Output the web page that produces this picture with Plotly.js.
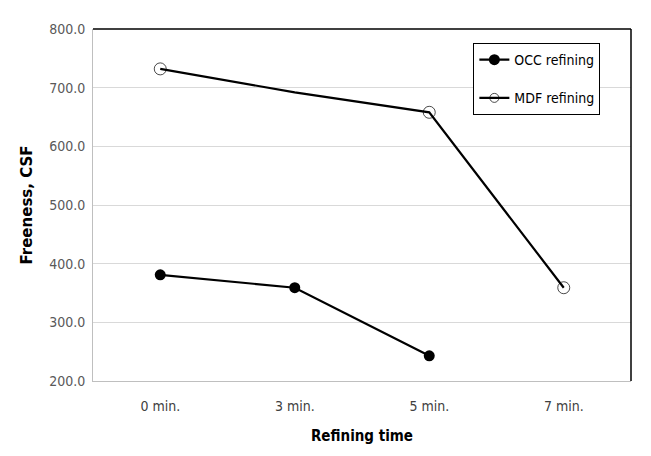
<!DOCTYPE html>
<html>
<head>
<meta charset="utf-8">
<script src="https://cdn.plot.ly/plotly-3.0.1.min.js"></script>
<style>html,body{margin:0;padding:0;background:#fff;}#chart{width:651px;height:456px;}</style>
</head>
<body>
<div id="chart"></div>
<script>
var categories = ["0 min.", "3 min.", "5 min.", "7 min."];
var occValues = [381, 359, 243, null];
var mdfValues = [732, 692, 658, 359];
var yTicks = [200, 300, 400, 500, 600, 700, 800];
var seriesNames = ["OCC refining", "MDF refining"];

var narrow = '"Liberation Sans Narrow", "DejaVu Sans Condensed", "Open Sans", sans-serif';

var traces = [
  {
    x: categories, y: occValues, name: seriesNames[0], type: 'scatter', mode: 'lines+markers',
    legendgroup: 'a',
    line: {color: '#000', width: 2.2},
    marker: {symbol: 'circle', color: '#000', size: 11}
  },
  {
    x: categories, y: mdfValues, name: seriesNames[1], type: 'scatter', mode: 'lines+markers',
    legendgroup: 'b',
    line: {color: '#000', width: 2.2},
    marker: {symbol: 'circle-open', color: '#000', size: [12, 0, 12, 12], line: {width: 1, color: '#000'}}
  }
];

var layout = {
  width: 651, height: 456,
  margin: {l: 93, r: 20, t: 29, b: 75},
  paper_bgcolor: '#fff', plot_bgcolor: '#fff',
  showlegend: true,
  legend: {
    x: 0.707, y: 0.96, xanchor: 'left', yanchor: 'top',
    bordercolor: '#000', borderwidth: 1, bgcolor: '#fff',
    font: {family: narrow, size: 14, color: '#000'},
    traceorder: 'grouped', tracegroupgap: 17, itemwidth: 30
  },
  xaxis: {
    type: 'category', range: [-0.5, 3.5],
    showgrid: false, showline: true, linecolor: '#bfbfbf', linewidth: 1,
    ticks: '', ticklabelstandoff: 12, tickfont: {family: narrow, size: 14, color: '#404040'},
    title: {text: '<b>Refining time</b>', font: {family: narrow, size: 15, color: '#000'}, standoff: 17},
    zeroline: false, fixedrange: true
  },
  yaxis: {
    range: [200, 800], tickvals: yTicks, tickformat: '.1f',
    showgrid: true, gridcolor: '#d9d9d9', gridwidth: 1,
    showline: true, linecolor: '#bfbfbf', linewidth: 1,
    ticks: '', ticklabelstandoff: 4, tickfont: {family: narrow, size: 14, color: '#595959'},
    title: {text: '<b>Freeness, CSF</b>', font: {family: '"DejaVu Sans", sans-serif', size: 15, color: '#000'}, standoff: 12},
    zeroline: false, fixedrange: true
  },
  shapes: [
    {type: 'line', xref: 'paper', yref: 'paper', x0: 0, x1: 1, y0: 1, y1: 1, line: {color: '#000', width: 1.5}},
    {type: 'line', xref: 'paper', yref: 'paper', x0: 1, x1: 1, y0: 0, y1: 1, line: {color: '#000', width: 1.5}}
  ]
};

Plotly.newPlot('chart', traces, layout, {displayModeBar: false, staticPlot: true});
</script>
</body>
</html>
